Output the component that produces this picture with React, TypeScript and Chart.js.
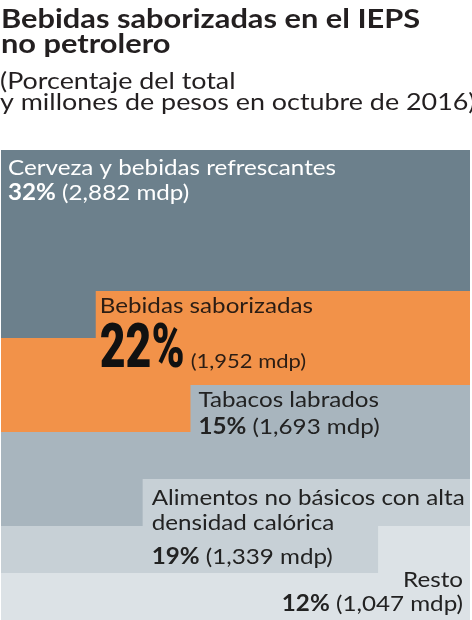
import React, { useEffect, useRef } from 'react';
import { Chart, registerables } from 'chart.js';

Chart.register(...registerables);

// categories, from top band to bottom band
const categories = [
  ['Cerveza y bebidas refrescantes'],
  ['Bebidas saborizadas'],
  ['Tabacos labrados'],
  ['Alimentos no básicos con alta', 'densidad calórica'],
  ['Resto'],
];
const shares = [32, 22, 15, 19, 12];
const amounts = [2882, 1952, 1693, 1339, 1047];

// boundary between band i and band i+1 (percent of width / height):
// level leftLevel[i] until stepX[i], then rightLevel[i]
const stepX = [20.2, 40.4, 30.2, 80.4];
const leftLevel = [60, 40, 20, 10];
const rightLevel = [70, 50, 30, 20];

const colors = ['#6c808c', '#f29249', '#a8b5be', '#c7d0d6', '#dce2e6'];

const FONT = 'Lato';
const fmt = (n: number) => n.toLocaleString('en-US');

const textPlugin = {
  id: 'stepLabels',
  afterDraw(chart: any) {
    const { ctx, chartArea } = chart;
    const xs = chart.scales.x;
    const ys = chart.scales.y;
    ctx.save();
    ctx.textBaseline = 'alphabetic';
    ctx.textAlign = 'left';

    // the lettering of the original is a bit wide, so stretch it horizontally
    const put = (text: string, x: number, y: number, font: string, color: string, sx = 1.1, right = false) => {
      ctx.save();
      ctx.font = font;
      ctx.fillStyle = color;
      const w = ctx.measureText(text).width * sx;
      ctx.translate(right ? x - w : x, y);
      ctx.scale(sx, 1);
      ctx.fillText(text, 0, 0);
      ctx.restore();
      return w;
    };
    const width = (text: string, font: string, sx = 1.1) => {
      ctx.font = font;
      return ctx.measureText(text).width * sx;
    };

    // title
    put('Bebidas saborizadas en el IEPS', 1, 28, `bold 27.5px ${FONT}`, '#231f20', 1.12);
    put('no petrolero', 1, 53, `bold 27.5px ${FONT}`, '#231f20', 1.12);
    put('(Porcentaje del total', 0, 89, `24px ${FONT}`, '#231f20', 1.12);
    put('y millones de pesos en octubre de 2016)', 0, 110, `24px ${FONT}`, '#231f20', 1.12);

    const labelFont = `22px ${FONT}`;
    const boldFont = `bold 22px ${FONT}`;

    const shareLine = (i: number, x: number, y: number, color: string, right = false) => {
      const a = shares[i] + '%';
      const b = ' (' + fmt(amounts[i]) + ' mdp)';
      const total = width(a, boldFont) + width(b, labelFont);
      const x0 = right ? x - total : x;
      const wa = put(a, x0, y, boldFont, color);
      put(b, x0 + wa, y, labelFont, color);
    };

    // band 0
    let x = chartArea.left + 7;
    let top = chartArea.top;
    put(categories[0][0], x, top + 25, labelFont, '#ffffff');
    shareLine(0, x, top + 50, '#ffffff');

    // band 1
    x = xs.getPixelForValue(stepX[0]) + 4;
    top = ys.getPixelForValue(rightLevel[0]);
    put(categories[1][0], x, top + 22, labelFont, '#2b1d14');
    const bw = put(shares[1] + '%', x, top + 76, '900 62px Roboto', '#111111', 0.72);
    put('(' + fmt(amounts[1]) + ' mdp)', x + bw + 6, top + 77, `20px ${FONT}`, '#2b1d14');

    // band 2
    x = xs.getPixelForValue(stepX[1]) + 8;
    top = ys.getPixelForValue(rightLevel[1]);
    put(categories[2][0], x, top + 22, labelFont, '#222222');
    shareLine(2, x, top + 49, '#222222');

    // band 3
    x = xs.getPixelForValue(stepX[2]) + 9;
    top = ys.getPixelForValue(rightLevel[2]);
    put(categories[3][0], x, top + 26, labelFont, '#222222');
    put(categories[3][1], x, top + 51, labelFont, '#222222');
    shareLine(3, x, top + 85, '#222222');

    // band 4 (right aligned)
    x = chartArea.right - 7;
    top = ys.getPixelForValue(rightLevel[3]);
    put(categories[4][0], x, top + 61, labelFont, '#222222', 1.1, true);
    shareLine(4, x, top + 85, '#222222', true);

    ctx.restore();
  },
};

export default function App() {
  const chartRef = useRef<HTMLCanvasElement>(null);
  const chartInstance = useRef<Chart | null>(null);

  useEffect(() => {
    document.body.style.margin = '0';
    if (!chartRef.current) return;
    const ctx = chartRef.current.getContext('2d');
    if (!ctx) return;
    if (chartInstance.current) chartInstance.current.destroy();

    // each band fills from its lower boundary up to the top; upper bands are drawn over lower ones
    const datasets: any[] = stepX.map((s, i) => ({
      label: categories[i].join(' '),
      data: [
        { x: 0, y: leftLevel[i] },
        { x: s, y: rightLevel[i] },
        { x: 100, y: rightLevel[i] },
      ],
      stepped: 'before',
      fill: 'end',
      backgroundColor: colors[i],
      borderWidth: 0,
      pointRadius: 0,
    }));
    datasets.push({
      label: categories[4].join(' '),
      data: [
        { x: 0, y: 0 },
        { x: 100, y: 0 },
      ],
      fill: 'end',
      backgroundColor: colors[4],
      borderWidth: 0,
      pointRadius: 0,
    });

    chartInstance.current = new Chart(ctx, {
      type: 'line',
      data: { datasets },
      options: {
        responsive: false,
        animation: false,
        layout: { padding: { top: 150, left: 1, right: 2, bottom: 0 } },
        plugins: {
          legend: { display: false },
          tooltip: { enabled: false },
        },
        scales: {
          x: { type: 'linear', min: 0, max: 100, display: false },
          y: { type: 'linear', min: 0, max: 100, display: false },
        },
      },
      plugins: [textPlugin],
    });

    return () => {
      if (chartInstance.current) {
        chartInstance.current.destroy();
        chartInstance.current = null;
      }
    };
  }, []);

  return (
    <div style={{ position: 'absolute', left: 0, top: 0, width: 472, height: 620, background: '#ffffff' }}>
      <canvas ref={chartRef} width={472} height={620}></canvas>
    </div>
  );
}
